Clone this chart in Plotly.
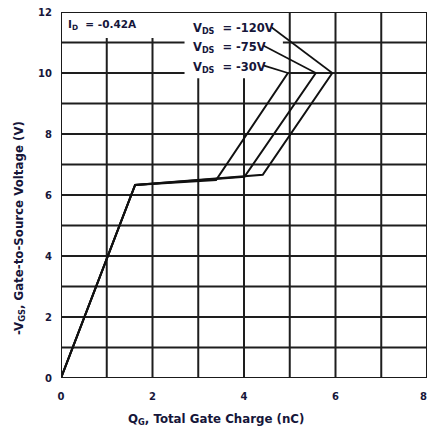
import plotly.graph_objects as go

# ---- data ----
qg_30 = [0, 1.62, 3.39, 4.96]
vgs_30 = [0, 6.33, 6.49, 10.0]
qg_75 = [0, 1.62, 4.01, 5.57]
vgs_75 = [0, 6.33, 6.60, 10.0]
qg_120 = [0, 1.62, 4.41, 5.93]
vgs_120 = [0, 6.33, 6.66, 10.0]

series_labels = ["V<sub>DS</sub>  = -120V", "V<sub>DS</sub>  = -75V", "V<sub>DS</sub>  = -30V"]
x_ticks = [0, 2, 4, 6, 8]
y_ticks = [0, 2, 4, 6, 8, 10, 12]
id_label = "I<sub>D</sub>  = -0.42A"
x_title = "Q<sub>G</sub>, Total Gate Charge (nC)"
y_title = "-V<sub>GS</sub>, Gate-to-Source Voltage (V)"

# label anchor positions and leader lines (label end -> curve peak)
label_pos = [(2.85, 11.47), (2.85, 10.82), (2.85, 10.17)]
leader_x = [[4.60, qg_120[-1]], [4.42, qg_75[-1]], [4.42, qg_30[-1]]]
leader_y = [[11.50, vgs_120[-1]], [10.90, vgs_75[-1]], [10.25, vgs_30[-1]]]

TXT = "#16163a"
FONT = "DejaVu Sans"
GRID = "#1e1e1e"

fig = go.Figure()

# gridlines (with gaps where the labels sit)
shapes = []
vgrid = {1: (0, 11.15), 2: (0, 11.15), 3: (0, 9.83), 4: (0, 9.83), 5: (0, 12), 6: (0, 12), 7: (0, 12)}
for xv, (y0, y1) in vgrid.items():
    shapes.append(dict(type="line", xref="x", yref="y", x0=xv, x1=xv, y0=y0, y1=y1,
                       line=dict(color=GRID, width=2), layer="below"))
hgrid = {yv: [(0, 8)] for yv in range(1, 10)}
hgrid[10] = [(0, 2.7), (4.96, 8)]
hgrid[11] = [(0, 2.7), (4.85, 8)]
for yv, segs in hgrid.items():
    for x0, x1 in segs:
        shapes.append(dict(type="line", xref="x", yref="y", x0=x0, x1=x1, y0=yv, y1=yv,
                           line=dict(color=GRID, width=2), layer="below"))
# frame
shapes.append(dict(type="rect", xref="x", yref="y", x0=0, x1=8, y0=0, y1=12,
                   line=dict(color="#1a1a1a", width=2), layer="above"))

for qx, vy in [(qg_30, vgs_30), (qg_75, vgs_75), (qg_120, vgs_120)]:
    fig.add_trace(go.Scatter(x=qx, y=vy, mode="lines",
                             line=dict(color="#111111", width=2), showlegend=False,
                             hoverinfo="skip"))
for lx, ly in zip(leader_x, leader_y):
    fig.add_trace(go.Scatter(x=lx, y=ly, mode="lines",
                             line=dict(color="#111111", width=1.6), showlegend=False,
                             hoverinfo="skip"))

annotations = []
for text, (ax_, ay_) in zip(series_labels, label_pos):
    annotations.append(dict(x=ax_, y=ay_, xref="x", yref="y", text=text, showarrow=False,
                            xanchor="left", yanchor="middle",
                            font=dict(family=FONT, size=11.5, color=TXT, weight="bold")))
annotations.append(dict(x=0.12, y=11.58, xref="x", yref="y", text=id_label, showarrow=False,
                        xanchor="left", yanchor="middle",
                        font=dict(family=FONT, size=10.5, color=TXT, weight="bold")))
# last x tick label sits at the very edge of the figure
annotations.append(dict(x=x_ticks[-1], y=0, xref="x", yref="y", text=str(x_ticks[-1]),
                        showarrow=False, xanchor="right", yanchor="top", yshift=-11, xshift=2,
                        font=dict(family=FONT, size=10, color=TXT, weight="bold")))
annotations.append(dict(x=216, y=420, xref="paper", yref="paper", text=x_title, showarrow=False,
                        xanchor="center", yanchor="middle",
                        font=dict(family=FONT, size=11.8, color=TXT, weight="bold")))
annotations.append(dict(x=19, y=228, xref="paper", yref="paper", text=y_title, showarrow=False,
                        xanchor="center", yanchor="middle", textangle=-90,
                        font=dict(family=FONT, size=11.8, color=TXT, weight="bold")))

# convert pixel positions of axis titles to paper coords
L, R, T, B = 61, 2, 12, 52
W, H = 429, 430
pw, ph = W - L - R, H - T - B
for a in annotations[-2:]:
    px, py = a["x"], a["y"]
    a["x"] = (px - L) / pw
    a["y"] = (H - B - py) / ph

fig.update_layout(
    width=W, height=H,
    margin=dict(l=L, r=R, t=T, b=B),
    paper_bgcolor="white", plot_bgcolor="white",
    shapes=shapes, annotations=annotations,
    xaxis=dict(range=[0, 8], tickvals=x_ticks[:-1], ticktext=[str(v) for v in x_ticks[:-1]],
               showgrid=False, zeroline=False, showline=False, ticks="",
               ticklabelstandoff=11,
               tickfont=dict(family=FONT, size=10, color=TXT, weight="bold")),
    yaxis=dict(range=[0, 12], tickvals=y_ticks, ticktext=[str(v) for v in y_ticks],
               showgrid=False, zeroline=False, showline=False, ticks="",
               ticklabelstandoff=8,
               tickfont=dict(family=FONT, size=10, color=TXT, weight="bold")),
)

fig.write_html("out.html", config={"displayModeBar": False},
               post_script="document.body.style.margin='0';document.body.style.overflow='hidden';")
